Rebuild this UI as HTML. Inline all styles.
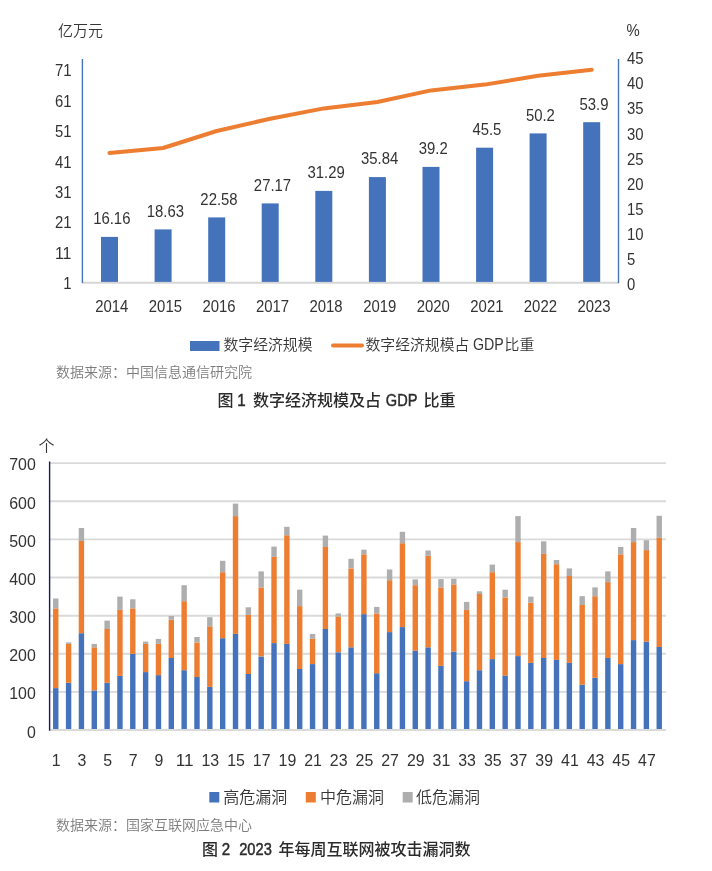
<!DOCTYPE html>
<html lang="zh-CN"><head><meta charset="utf-8"><title>数字经济规模与漏洞统计</title>
<style>
html,body{margin:0;padding:0;background:#fff;}
body{width:712px;height:871px;overflow:hidden;position:relative;font-family:"Liberation Sans", "Noto Sans CJK SC", sans-serif;}
svg{position:absolute;left:0;top:0;display:block;}
text{font-family:"Liberation Sans", "Noto Sans CJK SC", sans-serif;}
.ax{font-size:15.6px;fill:#333333;}
.axc{font-size:15px;font-weight:350;fill:#363636;}
.ax2{font-size:16.6px;fill:#333333;}
.ax2c{font-size:16px;font-weight:350;fill:#363636;}
.src{font-size:14px;font-weight:350;fill:#7c7c7c;}
.cap{font-size:16px;font-weight:500;fill:#2b2b2b;}
.capl{font-size:16.5px;font-weight:normal;fill:#2b2b2b;stroke:#2b2b2b;stroke-width:0.45px;}
.lg{font-size:14.85px;font-weight:350;fill:#363636;}
.lg2{font-size:16px;font-weight:350;fill:#363636;}
</style></head><body>
<svg width="712" height="871" viewBox="0 0 712 871">
<rect x="0" y="0" width="712" height="871" fill="#ffffff"/>
<line x1="82" y1="282.8" x2="619" y2="282.8" stroke="#d6d6d6" stroke-width="1.9"/>
<rect x="101.0" y="236.9" width="17.0" height="45.0" fill="#4472BB"/>
<rect x="154.6" y="229.4" width="17.0" height="52.5" fill="#4472BB"/>
<rect x="208.2" y="217.4" width="17.0" height="64.5" fill="#4472BB"/>
<rect x="261.7" y="203.4" width="17.0" height="78.5" fill="#4472BB"/>
<rect x="315.3" y="190.9" width="17.0" height="91.0" fill="#4472BB"/>
<rect x="368.9" y="177.1" width="17.0" height="104.8" fill="#4472BB"/>
<rect x="422.5" y="166.9" width="17.0" height="115.0" fill="#4472BB"/>
<rect x="476.1" y="147.7" width="17.0" height="134.2" fill="#4472BB"/>
<rect x="529.6" y="133.4" width="17.0" height="148.5" fill="#4472BB"/>
<rect x="583.2" y="122.2" width="17.0" height="159.7" fill="#4472BB"/>
<line x1="82.4" y1="59" x2="82.4" y2="283" stroke="#4674b5" stroke-width="1.4"/>
<line x1="618.5" y1="59" x2="618.5" y2="283" stroke="#4674b5" stroke-width="1.4"/>
<polyline points="109.5,153.0 163.1,148.0 216.7,131.0 270.2,118.7 323.8,108.4 377.4,102.0 431.0,90.4 484.6,84.6 538.1,75.8 591.7,69.8" fill="none" stroke="#ED7D31" stroke-width="4" stroke-linecap="round" stroke-linejoin="round"/>
<text class="ax" x="111.8" y="224.2" text-anchor="middle" textLength="37.27" lengthAdjust="spacingAndGlyphs">16.16</text>
<text class="ax" x="111.8" y="312.3" text-anchor="middle" textLength="33.13" lengthAdjust="spacingAndGlyphs">2014</text>
<text class="ax" x="165.4" y="216.7" text-anchor="middle" textLength="37.27" lengthAdjust="spacingAndGlyphs">18.63</text>
<text class="ax" x="165.4" y="312.3" text-anchor="middle" textLength="33.13" lengthAdjust="spacingAndGlyphs">2015</text>
<text class="ax" x="219.0" y="204.7" text-anchor="middle" textLength="37.27" lengthAdjust="spacingAndGlyphs">22.58</text>
<text class="ax" x="219.0" y="312.3" text-anchor="middle" textLength="33.13" lengthAdjust="spacingAndGlyphs">2016</text>
<text class="ax" x="272.5" y="190.7" text-anchor="middle" textLength="37.27" lengthAdjust="spacingAndGlyphs">27.17</text>
<text class="ax" x="272.5" y="312.3" text-anchor="middle" textLength="33.13" lengthAdjust="spacingAndGlyphs">2017</text>
<text class="ax" x="326.1" y="178.2" text-anchor="middle" textLength="37.27" lengthAdjust="spacingAndGlyphs">31.29</text>
<text class="ax" x="326.1" y="312.3" text-anchor="middle" textLength="33.13" lengthAdjust="spacingAndGlyphs">2018</text>
<text class="ax" x="379.7" y="164.4" text-anchor="middle" textLength="37.27" lengthAdjust="spacingAndGlyphs">35.84</text>
<text class="ax" x="379.7" y="312.3" text-anchor="middle" textLength="33.13" lengthAdjust="spacingAndGlyphs">2019</text>
<text class="ax" x="433.3" y="154.2" text-anchor="middle" textLength="28.99" lengthAdjust="spacingAndGlyphs">39.2</text>
<text class="ax" x="433.3" y="312.3" text-anchor="middle" textLength="33.13" lengthAdjust="spacingAndGlyphs">2020</text>
<text class="ax" x="486.9" y="135.0" text-anchor="middle" textLength="28.99" lengthAdjust="spacingAndGlyphs">45.5</text>
<text class="ax" x="486.9" y="312.3" text-anchor="middle" textLength="33.13" lengthAdjust="spacingAndGlyphs">2021</text>
<text class="ax" x="540.4" y="120.7" text-anchor="middle" textLength="28.99" lengthAdjust="spacingAndGlyphs">50.2</text>
<text class="ax" x="540.4" y="312.3" text-anchor="middle" textLength="33.13" lengthAdjust="spacingAndGlyphs">2022</text>
<text class="ax" x="594.0" y="109.5" text-anchor="middle" textLength="28.99" lengthAdjust="spacingAndGlyphs">53.9</text>
<text class="ax" x="594.0" y="312.3" text-anchor="middle" textLength="33.13" lengthAdjust="spacingAndGlyphs">2023</text>
<text class="ax" x="71.5" y="76.4" text-anchor="end" textLength="16.57" lengthAdjust="spacingAndGlyphs">71</text>
<text class="ax" x="71.5" y="106.8" text-anchor="end" textLength="16.57" lengthAdjust="spacingAndGlyphs">61</text>
<text class="ax" x="71.5" y="137.2" text-anchor="end" textLength="16.57" lengthAdjust="spacingAndGlyphs">51</text>
<text class="ax" x="71.5" y="167.6" text-anchor="end" textLength="16.57" lengthAdjust="spacingAndGlyphs">41</text>
<text class="ax" x="71.5" y="198.0" text-anchor="end" textLength="16.57" lengthAdjust="spacingAndGlyphs">31</text>
<text class="ax" x="71.5" y="228.4" text-anchor="end" textLength="16.57" lengthAdjust="spacingAndGlyphs">21</text>
<text class="ax" x="71.5" y="258.8" text-anchor="end" textLength="16.57" lengthAdjust="spacingAndGlyphs">11</text>
<text class="ax" x="71.5" y="289.2" text-anchor="end" textLength="8.28" lengthAdjust="spacingAndGlyphs">1</text>
<text class="ax" x="627" y="64.3" textLength="16.57" lengthAdjust="spacingAndGlyphs">45</text>
<text class="ax" x="627" y="89.3" textLength="16.57" lengthAdjust="spacingAndGlyphs">40</text>
<text class="ax" x="627" y="114.4" textLength="16.57" lengthAdjust="spacingAndGlyphs">35</text>
<text class="ax" x="627" y="139.5" textLength="16.57" lengthAdjust="spacingAndGlyphs">30</text>
<text class="ax" x="627" y="164.5" textLength="16.57" lengthAdjust="spacingAndGlyphs">25</text>
<text class="ax" x="627" y="189.6" textLength="16.57" lengthAdjust="spacingAndGlyphs">20</text>
<text class="ax" x="627" y="214.6" textLength="16.57" lengthAdjust="spacingAndGlyphs">15</text>
<text class="ax" x="627" y="239.7" textLength="16.57" lengthAdjust="spacingAndGlyphs">10</text>
<text class="ax" x="627" y="264.7" textLength="8.28" lengthAdjust="spacingAndGlyphs">5</text>
<text class="ax" x="627" y="289.8" textLength="8.28" lengthAdjust="spacingAndGlyphs">0</text>
<text class="axc" x="58" y="36">亿万元</text>
<text class="ax" x="626.5" y="36" textLength="13.24" lengthAdjust="spacingAndGlyphs">%</text>
<rect x="190" y="341" width="29.5" height="10" fill="#4472BB"/>
<text class="lg" x="223.5" y="350">数字经济规模</text>
<line x1="333" y1="345.5" x2="362" y2="345.5" stroke="#ED7D31" stroke-width="4" stroke-linecap="round"/>
<text class="lg" x="365.5" y="350">数字经济规模占</text>
<text class="lg" x="473" y="350" style="font-size:15.8px" textLength="30.8" lengthAdjust="spacingAndGlyphs">GDP</text>
<text class="lg" x="504.6" y="350">比重</text>
<text class="src" x="56" y="377">数据来源：中国信息通信研究院</text>
<text class="cap" x="217.5" y="405.5">图</text>
<text class="capl" x="237.2" y="405.5" textLength="8.4" lengthAdjust="spacingAndGlyphs">1</text>
<text class="cap" x="253" y="405.5">数字经济规模及占</text>
<text class="capl" x="385.8" y="405.5" textLength="31.6" lengthAdjust="spacingAndGlyphs">GDP</text>
<text class="cap" x="423.5" y="405.5">比重</text>
<line x1="50" y1="691.9" x2="666" y2="691.9" stroke="#dadada" stroke-width="1.9"/>
<line x1="50" y1="653.8" x2="666" y2="653.8" stroke="#dadada" stroke-width="1.9"/>
<line x1="50" y1="615.7" x2="666" y2="615.7" stroke="#dadada" stroke-width="1.9"/>
<line x1="50" y1="577.5" x2="666" y2="577.5" stroke="#dadada" stroke-width="1.9"/>
<line x1="50" y1="539.4" x2="666" y2="539.4" stroke="#dadada" stroke-width="1.9"/>
<line x1="50" y1="501.3" x2="666" y2="501.3" stroke="#dadada" stroke-width="1.9"/>
<line x1="50" y1="463.1" x2="666" y2="463.1" stroke="#dadada" stroke-width="1.9"/>
<rect x="53.05" y="688.1" width="5.4" height="41.9" fill="#4472BB"/>
<rect x="53.05" y="608.4" width="5.4" height="79.7" fill="#ED7D31"/>
<rect x="53.05" y="598.5" width="5.4" height="9.9" fill="#AEAEAE"/>
<rect x="65.89" y="682.8" width="5.4" height="47.3" fill="#4472BB"/>
<rect x="65.89" y="643.9" width="5.4" height="38.9" fill="#ED7D31"/>
<rect x="65.89" y="642.4" width="5.4" height="1.5" fill="#AEAEAE"/>
<rect x="78.73" y="633.2" width="5.4" height="96.9" fill="#4472BB"/>
<rect x="78.73" y="540.9" width="5.4" height="92.3" fill="#ED7D31"/>
<rect x="78.73" y="528.0" width="5.4" height="13.0" fill="#AEAEAE"/>
<rect x="91.57" y="690.4" width="5.4" height="39.7" fill="#4472BB"/>
<rect x="91.57" y="647.3" width="5.4" height="43.1" fill="#ED7D31"/>
<rect x="91.57" y="643.9" width="5.4" height="3.4" fill="#AEAEAE"/>
<rect x="104.41" y="682.8" width="5.4" height="47.3" fill="#4472BB"/>
<rect x="104.41" y="629.0" width="5.4" height="53.8" fill="#ED7D31"/>
<rect x="104.41" y="620.6" width="5.4" height="8.4" fill="#AEAEAE"/>
<rect x="117.25" y="675.9" width="5.4" height="54.1" fill="#4472BB"/>
<rect x="117.25" y="609.9" width="5.4" height="66.0" fill="#ED7D31"/>
<rect x="117.25" y="596.6" width="5.4" height="13.3" fill="#AEAEAE"/>
<rect x="130.09" y="653.8" width="5.4" height="76.3" fill="#4472BB"/>
<rect x="130.09" y="608.4" width="5.4" height="45.4" fill="#ED7D31"/>
<rect x="130.09" y="599.3" width="5.4" height="9.2" fill="#AEAEAE"/>
<rect x="142.93" y="672.1" width="5.4" height="58.0" fill="#4472BB"/>
<rect x="142.93" y="643.9" width="5.4" height="28.2" fill="#ED7D31"/>
<rect x="142.93" y="641.6" width="5.4" height="2.3" fill="#AEAEAE"/>
<rect x="155.77" y="675.1" width="5.4" height="54.9" fill="#4472BB"/>
<rect x="155.77" y="643.9" width="5.4" height="31.3" fill="#ED7D31"/>
<rect x="155.77" y="638.9" width="5.4" height="5.0" fill="#AEAEAE"/>
<rect x="168.61" y="658.0" width="5.4" height="72.1" fill="#4472BB"/>
<rect x="168.61" y="619.9" width="5.4" height="38.1" fill="#ED7D31"/>
<rect x="168.61" y="616.0" width="5.4" height="3.8" fill="#AEAEAE"/>
<rect x="181.45" y="670.2" width="5.4" height="59.9" fill="#4472BB"/>
<rect x="181.45" y="601.2" width="5.4" height="69.0" fill="#ED7D31"/>
<rect x="181.45" y="585.2" width="5.4" height="16.0" fill="#AEAEAE"/>
<rect x="194.29" y="677.0" width="5.4" height="53.0" fill="#4472BB"/>
<rect x="194.29" y="642.4" width="5.4" height="34.7" fill="#ED7D31"/>
<rect x="194.29" y="637.0" width="5.4" height="5.3" fill="#AEAEAE"/>
<rect x="207.13" y="687.0" width="5.4" height="43.1" fill="#4472BB"/>
<rect x="207.13" y="626.3" width="5.4" height="60.6" fill="#ED7D31"/>
<rect x="207.13" y="617.2" width="5.4" height="9.2" fill="#AEAEAE"/>
<rect x="219.97" y="638.2" width="5.4" height="91.9" fill="#4472BB"/>
<rect x="219.97" y="572.2" width="5.4" height="66.0" fill="#ED7D31"/>
<rect x="219.97" y="560.8" width="5.4" height="11.4" fill="#AEAEAE"/>
<rect x="232.81" y="634.0" width="5.4" height="96.1" fill="#4472BB"/>
<rect x="232.81" y="516.1" width="5.4" height="117.8" fill="#ED7D31"/>
<rect x="232.81" y="503.6" width="5.4" height="12.6" fill="#AEAEAE"/>
<rect x="245.65" y="674.0" width="5.4" height="56.1" fill="#4472BB"/>
<rect x="245.65" y="614.9" width="5.4" height="59.1" fill="#ED7D31"/>
<rect x="245.65" y="607.3" width="5.4" height="7.6" fill="#AEAEAE"/>
<rect x="258.49" y="656.5" width="5.4" height="73.6" fill="#4472BB"/>
<rect x="258.49" y="587.4" width="5.4" height="69.0" fill="#ED7D31"/>
<rect x="258.49" y="571.4" width="5.4" height="16.0" fill="#AEAEAE"/>
<rect x="271.33" y="643.1" width="5.4" height="86.9" fill="#4472BB"/>
<rect x="271.33" y="556.9" width="5.4" height="86.2" fill="#ED7D31"/>
<rect x="271.33" y="546.6" width="5.4" height="10.3" fill="#AEAEAE"/>
<rect x="284.17" y="643.9" width="5.4" height="86.2" fill="#4472BB"/>
<rect x="284.17" y="535.2" width="5.4" height="108.7" fill="#ED7D31"/>
<rect x="284.17" y="526.8" width="5.4" height="8.4" fill="#AEAEAE"/>
<rect x="297.01" y="669.0" width="5.4" height="61.0" fill="#4472BB"/>
<rect x="297.01" y="606.1" width="5.4" height="62.9" fill="#ED7D31"/>
<rect x="297.01" y="589.7" width="5.4" height="16.4" fill="#AEAEAE"/>
<rect x="309.85" y="664.1" width="5.4" height="66.0" fill="#4472BB"/>
<rect x="309.85" y="638.5" width="5.4" height="25.5" fill="#ED7D31"/>
<rect x="309.85" y="634.0" width="5.4" height="4.6" fill="#AEAEAE"/>
<rect x="322.69" y="629.0" width="5.4" height="101.0" fill="#4472BB"/>
<rect x="322.69" y="547.0" width="5.4" height="82.0" fill="#ED7D31"/>
<rect x="322.69" y="535.6" width="5.4" height="11.4" fill="#AEAEAE"/>
<rect x="335.53" y="652.3" width="5.4" height="77.8" fill="#4472BB"/>
<rect x="335.53" y="616.4" width="5.4" height="35.8" fill="#ED7D31"/>
<rect x="335.53" y="613.4" width="5.4" height="3.1" fill="#AEAEAE"/>
<rect x="348.37" y="647.3" width="5.4" height="82.7" fill="#4472BB"/>
<rect x="348.37" y="568.4" width="5.4" height="78.9" fill="#ED7D31"/>
<rect x="348.37" y="558.8" width="5.4" height="9.5" fill="#AEAEAE"/>
<rect x="361.21" y="614.1" width="5.4" height="115.9" fill="#4472BB"/>
<rect x="361.21" y="554.3" width="5.4" height="59.9" fill="#ED7D31"/>
<rect x="361.21" y="549.7" width="5.4" height="4.6" fill="#AEAEAE"/>
<rect x="374.05" y="673.2" width="5.4" height="56.8" fill="#4472BB"/>
<rect x="374.05" y="613.4" width="5.4" height="59.9" fill="#ED7D31"/>
<rect x="374.05" y="606.9" width="5.4" height="6.5" fill="#AEAEAE"/>
<rect x="386.89" y="632.1" width="5.4" height="98.0" fill="#4472BB"/>
<rect x="386.89" y="580.2" width="5.4" height="51.9" fill="#ED7D31"/>
<rect x="386.89" y="569.5" width="5.4" height="10.7" fill="#AEAEAE"/>
<rect x="399.73" y="627.1" width="5.4" height="103.0" fill="#4472BB"/>
<rect x="399.73" y="543.2" width="5.4" height="83.9" fill="#ED7D31"/>
<rect x="399.73" y="531.8" width="5.4" height="11.4" fill="#AEAEAE"/>
<rect x="412.57" y="650.7" width="5.4" height="79.3" fill="#4472BB"/>
<rect x="412.57" y="585.2" width="5.4" height="65.6" fill="#ED7D31"/>
<rect x="412.57" y="579.4" width="5.4" height="5.7" fill="#AEAEAE"/>
<rect x="425.41" y="647.3" width="5.4" height="82.7" fill="#4472BB"/>
<rect x="425.41" y="555.8" width="5.4" height="91.5" fill="#ED7D31"/>
<rect x="425.41" y="550.5" width="5.4" height="5.3" fill="#AEAEAE"/>
<rect x="438.25" y="666.0" width="5.4" height="64.1" fill="#4472BB"/>
<rect x="438.25" y="587.4" width="5.4" height="78.5" fill="#ED7D31"/>
<rect x="438.25" y="579.1" width="5.4" height="8.4" fill="#AEAEAE"/>
<rect x="451.09" y="651.5" width="5.4" height="78.5" fill="#4472BB"/>
<rect x="451.09" y="584.4" width="5.4" height="67.1" fill="#ED7D31"/>
<rect x="451.09" y="578.7" width="5.4" height="5.7" fill="#AEAEAE"/>
<rect x="463.93" y="681.2" width="5.4" height="48.8" fill="#4472BB"/>
<rect x="463.93" y="609.9" width="5.4" height="71.3" fill="#ED7D31"/>
<rect x="463.93" y="601.9" width="5.4" height="8.0" fill="#AEAEAE"/>
<rect x="476.77" y="670.2" width="5.4" height="59.9" fill="#4472BB"/>
<rect x="476.77" y="593.9" width="5.4" height="76.3" fill="#ED7D31"/>
<rect x="476.77" y="591.3" width="5.4" height="2.7" fill="#AEAEAE"/>
<rect x="489.61" y="659.1" width="5.4" height="70.9" fill="#4472BB"/>
<rect x="489.61" y="572.2" width="5.4" height="86.9" fill="#ED7D31"/>
<rect x="489.61" y="564.6" width="5.4" height="7.6" fill="#AEAEAE"/>
<rect x="502.45" y="675.5" width="5.4" height="54.5" fill="#4472BB"/>
<rect x="502.45" y="597.4" width="5.4" height="78.2" fill="#ED7D31"/>
<rect x="502.45" y="589.7" width="5.4" height="7.6" fill="#AEAEAE"/>
<rect x="515.29" y="656.1" width="5.4" height="74.0" fill="#4472BB"/>
<rect x="515.29" y="542.1" width="5.4" height="114.0" fill="#ED7D31"/>
<rect x="515.29" y="516.1" width="5.4" height="25.9" fill="#AEAEAE"/>
<rect x="528.13" y="662.9" width="5.4" height="67.1" fill="#4472BB"/>
<rect x="528.13" y="602.7" width="5.4" height="60.2" fill="#ED7D31"/>
<rect x="528.13" y="596.6" width="5.4" height="6.1" fill="#AEAEAE"/>
<rect x="540.97" y="658.0" width="5.4" height="72.1" fill="#4472BB"/>
<rect x="540.97" y="553.9" width="5.4" height="104.1" fill="#ED7D31"/>
<rect x="540.97" y="541.3" width="5.4" height="12.6" fill="#AEAEAE"/>
<rect x="553.81" y="659.9" width="5.4" height="70.2" fill="#4472BB"/>
<rect x="553.81" y="564.2" width="5.4" height="95.7" fill="#ED7D31"/>
<rect x="553.81" y="560.0" width="5.4" height="4.2" fill="#AEAEAE"/>
<rect x="566.65" y="662.9" width="5.4" height="67.1" fill="#4472BB"/>
<rect x="566.65" y="576.0" width="5.4" height="86.9" fill="#ED7D31"/>
<rect x="566.65" y="568.4" width="5.4" height="7.6" fill="#AEAEAE"/>
<rect x="579.49" y="684.7" width="5.4" height="45.4" fill="#4472BB"/>
<rect x="579.49" y="605.0" width="5.4" height="79.7" fill="#ED7D31"/>
<rect x="579.49" y="596.2" width="5.4" height="8.8" fill="#AEAEAE"/>
<rect x="592.33" y="677.8" width="5.4" height="52.2" fill="#4472BB"/>
<rect x="592.33" y="596.2" width="5.4" height="81.6" fill="#ED7D31"/>
<rect x="592.33" y="587.4" width="5.4" height="8.8" fill="#AEAEAE"/>
<rect x="605.17" y="658.0" width="5.4" height="72.1" fill="#4472BB"/>
<rect x="605.17" y="582.1" width="5.4" height="75.9" fill="#ED7D31"/>
<rect x="605.17" y="571.4" width="5.4" height="10.7" fill="#AEAEAE"/>
<rect x="618.01" y="664.1" width="5.4" height="66.0" fill="#4472BB"/>
<rect x="618.01" y="554.3" width="5.4" height="109.8" fill="#ED7D31"/>
<rect x="618.01" y="547.0" width="5.4" height="7.2" fill="#AEAEAE"/>
<rect x="630.85" y="640.1" width="5.4" height="90.0" fill="#4472BB"/>
<rect x="630.85" y="542.1" width="5.4" height="98.0" fill="#ED7D31"/>
<rect x="630.85" y="528.0" width="5.4" height="14.1" fill="#AEAEAE"/>
<rect x="643.69" y="641.6" width="5.4" height="88.5" fill="#4472BB"/>
<rect x="643.69" y="550.1" width="5.4" height="91.5" fill="#ED7D31"/>
<rect x="643.69" y="540.2" width="5.4" height="9.9" fill="#AEAEAE"/>
<rect x="656.53" y="646.9" width="5.4" height="83.1" fill="#4472BB"/>
<rect x="656.53" y="537.9" width="5.4" height="109.1" fill="#ED7D31"/>
<rect x="656.53" y="515.8" width="5.4" height="22.1" fill="#AEAEAE"/>
<line x1="50" y1="730.0" x2="666" y2="730.0" stroke="#dadada" stroke-width="1.9"/>
<line x1="49.6" y1="461.5" x2="49.6" y2="730.8" stroke="#17176a" stroke-width="1.4"/>
<text class="ax2" x="35.8" y="738.0" text-anchor="end" textLength="8.86" lengthAdjust="spacingAndGlyphs">0</text>
<text class="ax2" x="35.8" y="699.2" text-anchor="end" textLength="26.58" lengthAdjust="spacingAndGlyphs">100</text>
<text class="ax2" x="35.8" y="661.1" text-anchor="end" textLength="26.58" lengthAdjust="spacingAndGlyphs">200</text>
<text class="ax2" x="35.8" y="623.0" text-anchor="end" textLength="26.58" lengthAdjust="spacingAndGlyphs">300</text>
<text class="ax2" x="35.8" y="584.8" text-anchor="end" textLength="26.58" lengthAdjust="spacingAndGlyphs">400</text>
<text class="ax2" x="35.8" y="546.7" text-anchor="end" textLength="26.58" lengthAdjust="spacingAndGlyphs">500</text>
<text class="ax2" x="35.8" y="508.6" text-anchor="end" textLength="26.58" lengthAdjust="spacingAndGlyphs">600</text>
<text class="ax2" x="35.8" y="470.4" text-anchor="end" textLength="26.58" lengthAdjust="spacingAndGlyphs">700</text>
<text class="ax2" x="56.2" y="766.3" text-anchor="middle" textLength="8.86" lengthAdjust="spacingAndGlyphs">1</text>
<text class="ax2" x="81.9" y="766.3" text-anchor="middle" textLength="8.86" lengthAdjust="spacingAndGlyphs">3</text>
<text class="ax2" x="107.6" y="766.3" text-anchor="middle" textLength="8.86" lengthAdjust="spacingAndGlyphs">5</text>
<text class="ax2" x="133.3" y="766.3" text-anchor="middle" textLength="8.86" lengthAdjust="spacingAndGlyphs">7</text>
<text class="ax2" x="159.0" y="766.3" text-anchor="middle" textLength="8.86" lengthAdjust="spacingAndGlyphs">9</text>
<text class="ax2" x="184.7" y="766.3" text-anchor="middle" textLength="17.72" lengthAdjust="spacingAndGlyphs">11</text>
<text class="ax2" x="210.3" y="766.3" text-anchor="middle" textLength="17.72" lengthAdjust="spacingAndGlyphs">13</text>
<text class="ax2" x="236.0" y="766.3" text-anchor="middle" textLength="17.72" lengthAdjust="spacingAndGlyphs">15</text>
<text class="ax2" x="261.7" y="766.3" text-anchor="middle" textLength="17.72" lengthAdjust="spacingAndGlyphs">17</text>
<text class="ax2" x="287.4" y="766.3" text-anchor="middle" textLength="17.72" lengthAdjust="spacingAndGlyphs">19</text>
<text class="ax2" x="313.1" y="766.3" text-anchor="middle" textLength="17.72" lengthAdjust="spacingAndGlyphs">21</text>
<text class="ax2" x="338.7" y="766.3" text-anchor="middle" textLength="17.72" lengthAdjust="spacingAndGlyphs">23</text>
<text class="ax2" x="364.4" y="766.3" text-anchor="middle" textLength="17.72" lengthAdjust="spacingAndGlyphs">25</text>
<text class="ax2" x="390.1" y="766.3" text-anchor="middle" textLength="17.72" lengthAdjust="spacingAndGlyphs">27</text>
<text class="ax2" x="415.8" y="766.3" text-anchor="middle" textLength="17.72" lengthAdjust="spacingAndGlyphs">29</text>
<text class="ax2" x="441.4" y="766.3" text-anchor="middle" textLength="17.72" lengthAdjust="spacingAndGlyphs">31</text>
<text class="ax2" x="467.1" y="766.3" text-anchor="middle" textLength="17.72" lengthAdjust="spacingAndGlyphs">33</text>
<text class="ax2" x="492.8" y="766.3" text-anchor="middle" textLength="17.72" lengthAdjust="spacingAndGlyphs">35</text>
<text class="ax2" x="518.5" y="766.3" text-anchor="middle" textLength="17.72" lengthAdjust="spacingAndGlyphs">37</text>
<text class="ax2" x="544.2" y="766.3" text-anchor="middle" textLength="17.72" lengthAdjust="spacingAndGlyphs">39</text>
<text class="ax2" x="569.9" y="766.3" text-anchor="middle" textLength="17.72" lengthAdjust="spacingAndGlyphs">41</text>
<text class="ax2" x="595.5" y="766.3" text-anchor="middle" textLength="17.72" lengthAdjust="spacingAndGlyphs">43</text>
<text class="ax2" x="621.2" y="766.3" text-anchor="middle" textLength="17.72" lengthAdjust="spacingAndGlyphs">45</text>
<text class="ax2" x="646.9" y="766.3" text-anchor="middle" textLength="17.72" lengthAdjust="spacingAndGlyphs">47</text>
<text class="ax2c" x="38.5" y="452">个</text>
<rect x="209.3" y="792" width="10" height="10.5" fill="#4472BB"/>
<text class="lg2" x="223.2" y="803">高危漏洞</text>
<rect x="305.8" y="792" width="10" height="10.5" fill="#ED7D31"/>
<text class="lg2" x="320.0" y="803">中危漏洞</text>
<rect x="402.7" y="792" width="10" height="10.5" fill="#AEAEAE"/>
<text class="lg2" x="416.0" y="803">低危漏洞</text>
<text class="src" x="56" y="830.3">数据来源：国家互联网应急中心</text>
<text class="cap" x="202" y="854.8">图</text>
<text class="capl" x="221.8" y="854.8" textLength="8.4" lengthAdjust="spacingAndGlyphs">2</text>
<text class="capl" x="239.2" y="854.8" textLength="32.6" lengthAdjust="spacingAndGlyphs">2023</text>
<text class="cap" x="278.5" y="854.8">年每周互联网被攻击漏洞数</text>
</svg>
</body></html>
